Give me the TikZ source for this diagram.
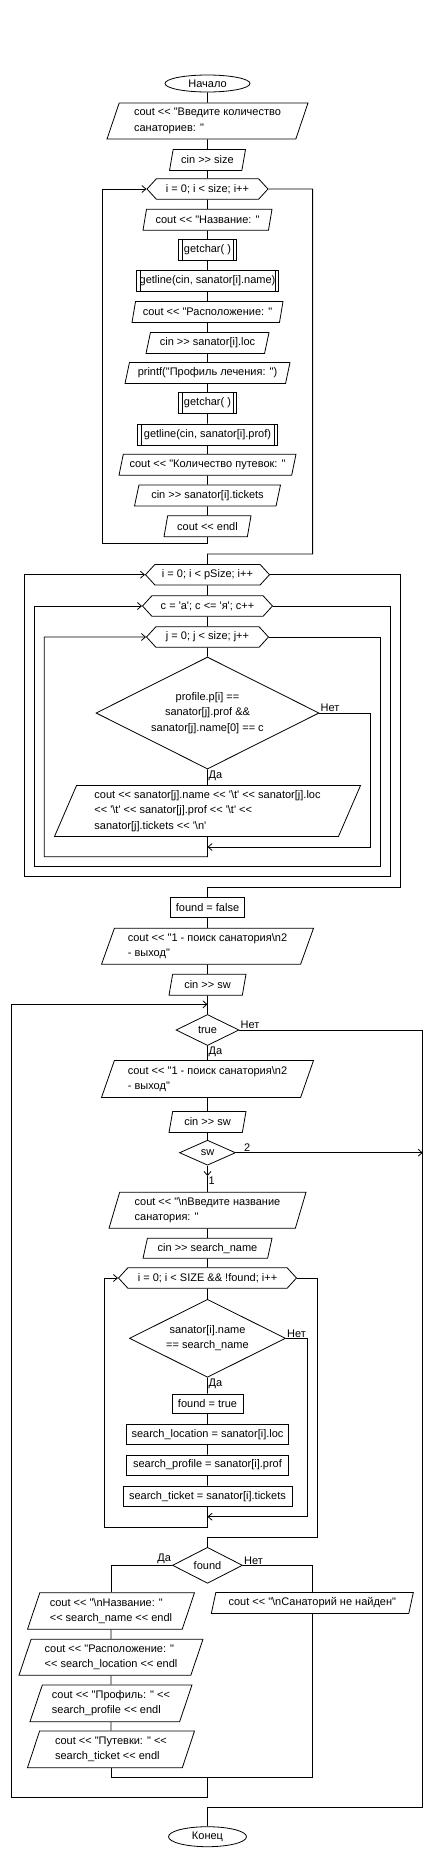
\documentclass[tikz,border=0pt]{standalone}
\usepackage{fontspec}
\setmainfont{Liberation Sans}[Ligatures=TeXOff]
\usetikzlibrary{shapes.geometric,shapes.symbols,arrows.meta}

\tikzset{
  base/.style={draw, line width=0.8pt, inner sep=1pt, minimum height=21pt,
    font=\fontsize{11}{15.5}\selectfont},
  term/.style={base, ellipse, inner sep=0pt},
  proc/.style={base, rectangle},
  subr/.style={proc, path picture={
    \draw[line width=0.8pt] ([xshift=3.5pt]path picture bounding box.north west) -- ([xshift=3.5pt]path picture bounding box.south west)
      ([xshift=-3.5pt]path picture bounding box.north east) -- ([xshift=-3.5pt]path picture bounding box.south east);}},
  io/.style={base, trapezium, trapezium left angle=#1, trapezium right angle={180-#1},
    trapezium stretches body, align=left},
  io/.default=70,
  loopbox/.style={base, signal, signal to=east and west, signal pointer angle=95, minimum height=20.5pt},
  decide/.style={base, diamond, aspect=2, inner sep=0pt, align=center},
  lbl/.style={inner sep=1pt, font=\fontsize{11}{13}\selectfont},
  line/.style={line width=0.8pt},
  arr/.style={line, -{Straight Barb[length=4pt,width=7pt]}},
}

\begin{document}
\begin{tikzpicture}[x=1pt, y=-1pt]
\useasboundingbox (0,0) rectangle (432,1856);

% input of the sanatoriums
\node[term, minimum width=85pt, minimum height=17pt] (start) at (207.5,83.5) {Начало};
\node[io=66, minimum width=201pt, minimum height=36pt] (askcount) at (207.5,121) {cout << "Введите количество\\санаториев: "};
\node[io, minimum width=76pt] (insize) at (207.5,160) {cin >> size};
\node[loopbox, minimum width=121pt] (loopa) at (207.5,189) {i = 0; i < size; i++};
\node[io, minimum width=129pt] (outname) at (207.5,219.7) {cout << "Название: "};
\node[subr, minimum width=58pt] (getca) at (207.5,250) {getchar( )};
\node[subr, minimum width=142pt] (getname) at (207.5,281) {getline(cin, sanator[i].name)};
\node[io, minimum width=151pt] (outloc) at (207.5,312) {cout << "Расположение: "};
\node[io, minimum width=123pt] (inloc) at (207.5,343) {cin >> sanator[i].loc};
\node[io, minimum width=165pt] (outprof) at (207.5,373) {printf("Профиль лечения: ")};
\node[subr, minimum width=58pt] (getcb) at (207.5,403) {getchar( )};
\node[subr, minimum width=140pt] (getprof) at (207.5,434.5) {getline(cin, sanator[i].prof)};
\node[io, minimum width=177pt] (outcnt) at (207.5,464.7) {cout << "Количество путевок: "};
\node[io, minimum width=146pt] (incnt) at (207.5,495.5) {cin >> sanator[i].tickets};
\node[io, minimum width=87pt] (outendl) at (207.5,526.3) {cout << endl};

% output by profile
\node[loopbox, minimum width=124pt] (loopi) at (207.5,574.7) {i = 0; i < pSize; i++};
\node[loopbox, minimum width=130pt] (loopc) at (207.5,606) {c = 'а'; c <= 'я'; c++};
\node[loopbox, minimum width=122pt] (loopj) at (207.5,637) {j = 0; j < size; j++};
\node[decide, minimum width=223pt, minimum height=112pt] (match) at (207.5,713) {profile.p[i] ==\\sanator[j].prof \&\&\\sanator[j].name[0] == c};
\node[io=63, minimum width=306pt, minimum height=51pt] (print) at (207.5,811) {cout << sanator[j].name << '\textbackslash t' << sanator[j].loc\\<< '\textbackslash t' << sanator[j].prof << '\textbackslash t' <<\\sanator[j].tickets << '\textbackslash n'};
\node[lbl, anchor=south west] (matchno) at (match.east) {Нет};
\node[lbl, anchor=north west] (matchyes) at (match.south) {Да};

% menu and search
\node[proc, minimum width=74pt, minimum height=20pt] (falsebox) at (207.5,907.5) {found = false};
\node[io=65, minimum width=212pt, minimum height=36pt] (menua) at (207.5,946.3) {cout << "1 - поиск санатория\textbackslash n2\\- выход"};
\node[io, minimum width=77pt] (inswa) at (207.5,984.7) {cin >> sw};
\coordinate (again) at (207.5,1004.3);
\node[decide, minimum width=63pt, minimum height=31pt] (forever) at (207.5,1030) {true};
\node[io=65, minimum width=212pt, minimum height=37pt] (menub) at (207.5,1079) {cout << "1 - поиск санатория\textbackslash n2\\- выход"};
\node[io, minimum width=77pt] (inswb) at (207.5,1122) {cin >> sw};
\node[decide, minimum width=56pt, minimum height=25pt] (choice) at (207.5,1152.7) {sw};
\coordinate (caseone) at (207.5,1176);
\node[io=69, minimum width=197pt, minimum height=36pt] (asksearch) at (207.5,1210.3) {cout << "\textbackslash nВведите название\\санатория: "};
\node[io, minimum width=129pt, minimum height=20pt] (insearch) at (207.5,1248.3) {cin >> search\_name};
\node[loopbox, minimum width=178pt] (loops) at (207.5,1278) {i = 0; i < SIZE \&\& !found; i++};
\node[decide, minimum width=156pt, minimum height=78pt] (same) at (207.5,1338.3) {sanator[i].name\\== search\_name};
\node[proc, minimum width=71pt, minimum height=19.5pt] (settrue) at (207.5,1403.7) {found = true};
\node[proc, minimum width=162pt, minimum height=20pt] (setloc) at (207.5,1434.3) {search\_location = sanator[i].loc};
\node[proc, minimum width=162pt, minimum height=20pt] (setprof) at (207.5,1465) {search\_profile = sanator[i].prof};
\node[proc, minimum width=169pt, minimum height=20.7pt] (settick) at (207.5,1496.3) {search\_ticket = sanator[i].tickets};
\node[decide, minimum width=70pt, minimum height=36pt] (isfound) at (207.5,1565.3) {found};
\node[io=66, minimum width=167pt, minimum height=36.6pt] (showname) at (111,1611) {cout << "\textbackslash nНазвание: "\\<< search\_name << endl};
\node[io=66, minimum width=184pt, minimum height=36pt] (showloc) at (111,1657.2) {cout << "Расположение: "\\<< search\_location << endl};
\node[io=66, minimum width=162pt, minimum height=36.7pt] (showprof) at (111,1703.3) {cout << "Профиль: " <<\\search\_profile << endl};
\node[io=66, minimum width=167pt, minimum height=36.7pt] (showtick) at (111,1749.3) {cout << "Путевки: " <<\\search\_ticket << endl};
\node[io, minimum width=202pt] (notfound) at (312.3,1603) {cout << "\textbackslash nСанаторий не найден"};
\node[term, minimum width=78pt, minimum height=20pt] (finish) at (207.5,1836.7) {Конец};

\node[lbl, anchor=south west] (foreverno) at (forever.east) {Нет};
\node[lbl, anchor=north west] (foreveryes) at (forever.south) {Да};
\node[lbl, anchor=south west, xshift=7pt] (choicetwo) at (choice.east) {2};
\node[lbl, anchor=north west] (choiceone) at (caseone) {1};
\node[lbl, anchor=south west] (sameno) at (same.east) {Нет};
\node[lbl, anchor=north west] (sameyes) at (same.south) {Да};
\node[lbl, anchor=south east] (isfoundyes) at (isfound.west) {Да};
\node[lbl, anchor=south west] (isfoundno) at (isfound.east) {Нет};

% connectors
\coordinate (reta) at (102,543.3);
\coordinate (exita) at (312.6,554);
\draw[line] (start) -- (askcount) -- (insize) -- (loopa) -- (outname) -- (getca) -- (getname) -- (outloc)
  -- (inloc) -- (outprof) -- (getcb) -- (getprof) -- (outcnt) -- (incnt) -- (outendl);
\draw[arr] (outendl) -- (outendl |- reta) -- (reta) |- (loopa.west);
\draw[line] (loopa.east) -| (exita) -- (exita -| loopi.north) -- (loopi);

\coordinate (skip) at (370.7,847);
\coordinate (retj) at (44.3,856.7);
\coordinate (exitj) at (380,866.7);
\coordinate (retc) at (34.3,866.7);
\coordinate (exitc) at (390,876.7);
\coordinate (reti) at (24.3,876.7);
\coordinate (exiti) at (400,887);
\draw[line] (loopi) -- (loopc) -- (loopj) -- (match) -- (print);
\draw[arr] (match.east) -| (skip) -- (skip -| print.south);
\draw[arr] (print) -- (print |- retj) -- (retj) |- (loopj.west);
\draw[arr] (loopj.east) -| (exitj) -- (retc) |- (loopc.west);
\draw[arr] (loopc.east) -| (exitc) -- (reti) |- (loopi.west);
\draw[line] (loopi.east) -| (exiti) -- (exiti -| falsebox.north) -- (falsebox);

\coordinate (quit) at (422.7,1807.3);
\coordinate (skipb) at (307.3,1516.7);
\coordinate (rets) at (104.3,1527.3);
\coordinate (exits) at (317.3,1537.3);
\coordinate (merge) at (207.5,1777.3);
\coordinate (back) at (11,1797.3);
\draw[line] (falsebox) -- (menua) -- (inswa) -- (forever) -- (menub) -- (inswb) -- (choice);
\draw[arr] (choice) -- (caseone);
\draw[line] (caseone) -- (asksearch) -- (insearch) -- (loops) -- (same) -- (settrue) -- (setloc) -- (setprof) -- (settick);
\draw[line] (forever.east) -| (quit) -- (quit -| finish.north) -- (finish);
\draw[arr] (choice.east) -- (choice.east -| quit);
\draw[arr] (same.east) -| (skipb) -- (skipb -| settick.south);
\draw[arr] (settick) -- (settick |- rets) -- (rets) |- (loops.west);
\draw[line] (loops.east) -| (exits) -- (exits -| isfound.north) -- (isfound);
\draw[line] (isfound.west) -| (showname);
\draw[line] (isfound.east) -| (notfound);
\draw[line] (showname) -- (showloc) -- (showprof) -- (showtick);
\draw[line] (showtick) |- (merge) -| (notfound);
\draw[arr] (merge) -- (merge |- back) -- (back) |- (again);
\end{tikzpicture}
\end{document}
